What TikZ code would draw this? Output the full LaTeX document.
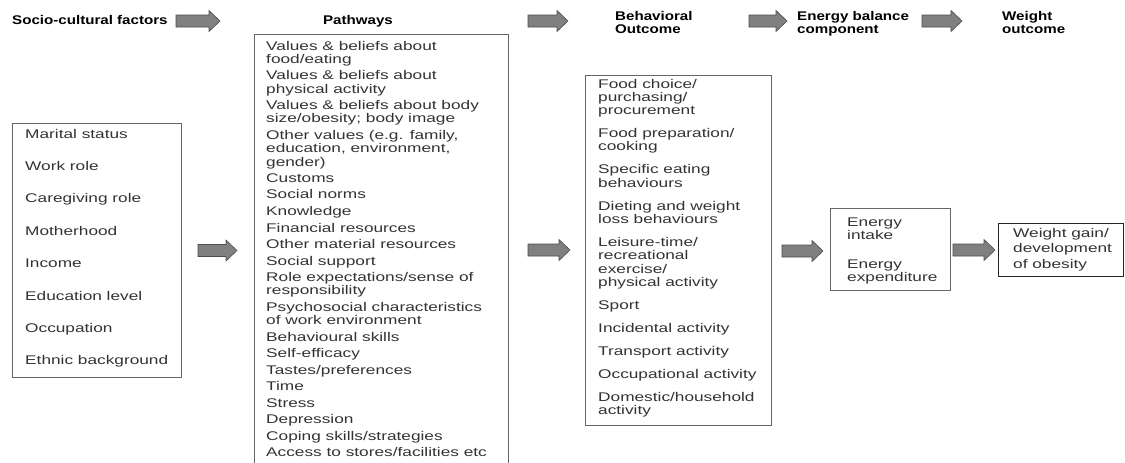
\documentclass[tikz,border=0pt]{standalone}
\usepackage{fontspec}
\setmainfont{Liberation Sans}[FakeStretch=1.37]
\newfontfamily\hdfont{Liberation Sans}[FakeStretch=1.2]
\usetikzlibrary{calc}
\definecolor{txtgray}{HTML}{333333}
\definecolor{boxgray}{HTML}{666666}
\definecolor{arrfill}{HTML}{808080}
\definecolor{arrline}{HTML}{4D4D4D}
\begin{document}
\begin{tikzpicture}[x=1pt,y=-1pt,
  box/.style={draw=boxgray, line width=0.9pt, inner sep=0pt, anchor=north west},
  txt/.style={anchor=base west, inner sep=0pt, text=txtgray, font=\fontsize{12.6pt}{13.3pt}\selectfont},
  hd/.style={anchor=base west, inner sep=0pt, text=black, font=\hdfont\bfseries\fontsize{12.6pt}{13pt}\selectfont},
  blockarrow/.style={draw=arrline, fill=arrfill, line width=0.6pt, line join=miter,
    to path={let \p1=(\tikztostart), \p2=(\tikztotarget) in
      (\x1,\y1+6pt) -- (\x2-11pt,\y1+6pt) -- (\x2-11pt,\y1+10.5pt) -- (\x2,\y1)
      -- (\x2-11pt,\y1-10.5pt) -- (\x2-11pt,\y1-6pt) -- (\x1,\y1-6pt) -- cycle}}
]
\useasboundingbox (0,0) rectangle (1125,463);

% headers
\node[hd] (h-soc) at (12,24) {Socio-cultural factors};
\node[hd, anchor=base] (h-path) at (358,24) {Pathways};
\node[hd] (h-beh) at (615,20) {\parbox[t]{100pt}{Behavioral\\Outcome}};
\node[hd] (h-en) at (797,20) {\parbox[t]{130pt}{Energy balance\\component}};
\node[hd] (h-wt) at (1002,20) {\parbox[t]{100pt}{Weight\\outcome}};

% boxes
\node[box, minimum width=169pt, minimum height=254pt] (soc) at (12,123) {};
\node[box, minimum width=254pt, minimum height=440pt] (path) at (254,34) {};
\node[box, minimum width=186pt, minimum height=350pt] (beh) at (585,75) {};
\node[box, minimum width=120pt, minimum height=82pt] (en) at (830,208) {};
\node[box, draw=black!85, minimum width=125pt, minimum height=53pt] (wt) at (998,223) {};

% texts
\node[txt] (soctxt) at (25,138) {\parbox[t]{160pt}{\raggedright
Marital status\\[19.1pt]
Work role\\[19.1pt]
Caregiving role\\[19.1pt]
Motherhood\\[19.1pt]
Income\\[19.1pt]
Education level\\[19.1pt]
Occupation\\[19.1pt]
Ethnic background}};

\node[txt] (pathtxt) at (266,50) {\parbox[t]{240pt}{\raggedright
Values \& beliefs about\\
food/eating\\[3.2pt]
Values \& beliefs about\\
physical activity\\[3.2pt]
Values \& beliefs about body\\
size/obesity; body image\\[3.2pt]
Other values (e.g. family,\\
education, environment,\\
gender)\\[3.2pt]
Customs\\[3.2pt]
Social norms\\[3.2pt]
Knowledge\\[3.2pt]
Financial resources\\[3.2pt]
Other material resources\\[3.2pt]
Social support\\[3.2pt]
Role expectations/sense of\\
responsibility\\[3.2pt]
Psychosocial characteristics\\
of work environment\\[3.2pt]
Behavioural skills\\[3.2pt]
Self-efficacy\\[3.2pt]
Tastes/preferences\\[3.2pt]
Time\\[3.2pt]
Stress\\[3.2pt]
Depression\\[3.2pt]
Coping skills/strategies\\[3.2pt]
Access to stores/facilities etc}};

\node[txt] (behtxt) at (598,88) {\parbox[t]{170pt}{\raggedright
Food choice/\\
purchasing/\\
procurement\\[9.7pt]
Food preparation/\\
cooking\\[9.7pt]
Specific eating\\
behaviours\\[9.7pt]
Dieting and weight\\
loss behaviours\\[9.7pt]
Leisure-time/\\
recreational\\
exercise/\\
physical activity\\[9.7pt]
Sport\\[9.7pt]
Incidental activity\\[9.7pt]
Transport activity\\[9.7pt]
Occupational activity\\[9.7pt]
Domestic/household\\
activity}};

\node[txt] (entxt) at (847,226) {\parbox[t]{100pt}{\raggedright
Energy\\
intake\\[15.7pt]
Energy\\
expenditure}};

\node[txt] (wttxt) at (1013,237) {\parbox[t]{105pt}{\fontsize{12.6pt}{15.5pt}\selectfont\raggedright
Weight gain/\\
development\\
of obesity}};

% arrow end points
\coordinate (h1s) at (176,21); \coordinate (h1e) at (220,21);
\coordinate (h2s) at (528,21); \coordinate (h2e) at (568,21);
\coordinate (h3s) at (749,21); \coordinate (h3e) at (787,21);
\coordinate (h4s) at (922,21); \coordinate (h4e) at (962,21);
\coordinate (m1s) at (198,250.5); \coordinate (m1e) at (237,250.5);
\coordinate (m2s) at (528,250); \coordinate (m2e) at (570,250);
\coordinate (m3s) at (782,251); \coordinate (m3e) at (823,251);
\coordinate (m4s) at (953,250); \coordinate (m4e) at (995,250);

\draw[blockarrow] (h1s) to (h1e);
\draw[blockarrow] (h2s) to (h2e);
\draw[blockarrow] (h3s) to (h3e);
\draw[blockarrow] (h4s) to (h4e);
\draw[blockarrow] (m1s) to (m1e);
\draw[blockarrow] (m2s) to (m2e);
\draw[blockarrow] (m3s) to (m3e);
\draw[blockarrow] (m4s) to (m4e);
\end{tikzpicture}
\end{document}
